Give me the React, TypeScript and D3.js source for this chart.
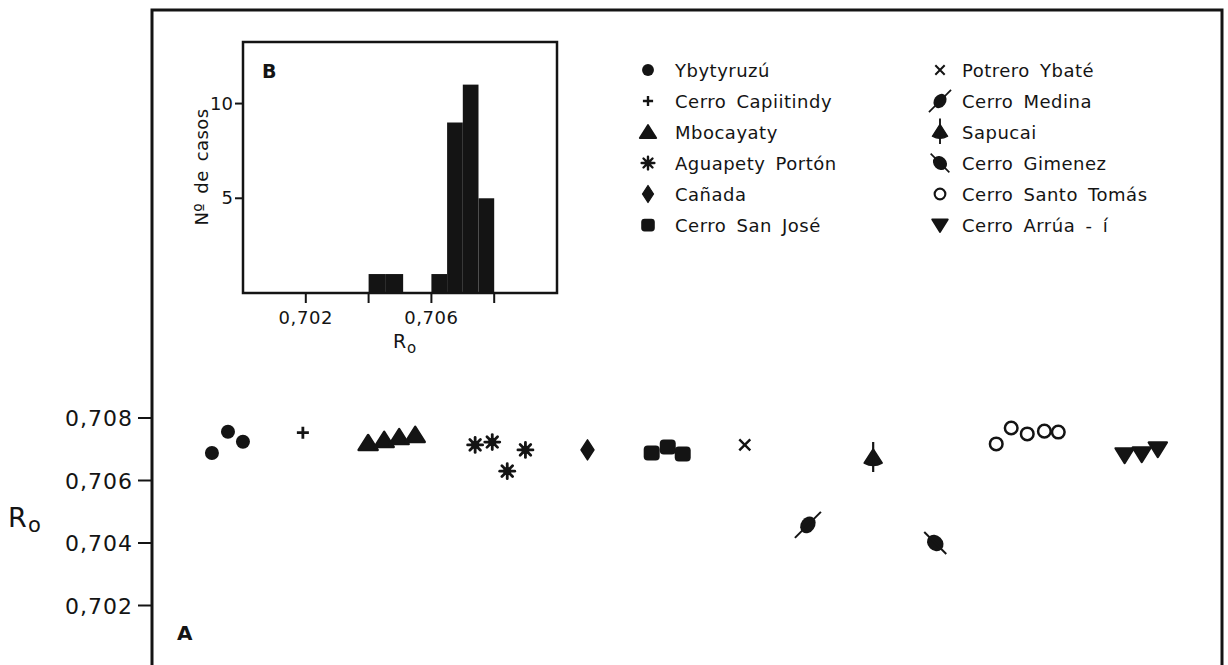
import React from 'react';
import * as d3 from 'd3';

// localities, marker style and samples (position along the plot, R0)
const localities = [
  'Ybytyruzú', 'Cerro Capiitindy', 'Mbocayaty', 'Aguapety Portón', 'Cañada', 'Cerro San José',
  'Potrero Ybaté', 'Cerro Medina', 'Sapucai', 'Cerro Gimenez', 'Cerro Santo Tomás', 'Cerro Arrúa - í',
];
const markerKinds = ['dot', 'plus', 'tri', 'star', 'diamond', 'square', 'x', 'medina', 'sapucai', 'gimenez', 'ring', 'vtri'];
const samplePos = [
  [5.6, 7.1, 8.5], [14.1], [20.2, 21.7, 23.1, 24.6], [30.2, 31.8, 34.9, 33.2], [40.7], [46.7, 48.2, 49.6],
  [55.4], [61.3], [67.4], [73.2], [78.9, 80.3, 81.8, 83.4, 84.7], [90.9, 92.5, 94.0],
];
const sampleR0 = [
  [0.70688, 0.70756, 0.70724], [0.70753], [0.7072, 0.7073, 0.70739, 0.70746], [0.70714, 0.70723, 0.70698, 0.7063],
  [0.70698], [0.70688, 0.70707, 0.70685], [0.70714], [0.70458], [0.70672], [0.704], [0.70717, 0.70768, 0.70749, 0.70758, 0.70755],
  [0.70682, 0.70685, 0.70701],
];

// histogram (inset B)
const binLo = [0.704, 0.70455, 0.706, 0.7065, 0.707, 0.7075];
const binHi = [0.70455, 0.7051, 0.7065, 0.707, 0.7075, 0.708];
const binCount = [1, 1, 1, 9, 11, 5];

const mainTicks = [0.702, 0.704, 0.706, 0.708];
const histXTicks = [0.702, 0.704, 0.706, 0.708];
const histXLabels = [0.702, 0.706];
const histYTicks = [5, 10];

const INK = '#141414';
const FONT = '"DejaVu Sans", "Noto Sans", sans-serif';
const fmt = (v: number) => d3.format('.3f')(v).replace('.', ',');

function Marker({ kind, x, y, s = 1 }: { kind: string; x: number; y: number; s?: number }) {
  let body: React.ReactNode = null;
  switch (kind) {
    case 'dot':
      body = <circle r={7} fill={INK} />;
      break;
    case 'plus':
      body = <path d="M-6,0H6M0,-6V6" stroke={INK} strokeWidth={2.8} />;
      break;
    case 'tri':
      body = <polygon points="0,-8 9.5,7 -9.5,7" fill={INK} stroke={INK} strokeWidth={2.5} strokeLinejoin="round" />;
      break;
    case 'star':
      body = (
        <g stroke={INK} strokeWidth={2.8} strokeLinecap="round">
          {[0, 45, 90, 135].map(a => (
            <line key={a} x1={-7.5} y1={0} x2={7.5} y2={0} transform={`rotate(${a})`} />
          ))}
          <circle r={4.2} fill={INK} stroke="none" />
        </g>
      );
      break;
    case 'diamond':
      body = <polygon points="0,-10 6.5,0 0,10 -6.5,0" fill={INK} stroke={INK} strokeWidth={1.5} strokeLinejoin="round" />;
      break;
    case 'square':
      body = <rect x={-8} y={-7.5} width={16} height={15} rx={4} fill={INK} />;
      break;
    case 'x':
      body = <path d="M-5.5,-5.5L5.5,5.5M5.5,-5.5L-5.5,5.5" stroke={INK} strokeWidth={2.4} />;
      break;
    case 'medina':
      body = (
        <g>
          <ellipse rx={9} ry={7} transform="rotate(-55)" fill={INK} />
          <line x1={-13} y1={13} x2={13} y2={-13} stroke={INK} strokeWidth={2} />
        </g>
      );
      break;
    case 'sapucai':
      body = (
        <g>
          <path d="M0,-9L9,5Q0,10,-9,5Z" fill={INK} stroke={INK} strokeWidth={1.5} strokeLinejoin="round" />
          <line x1={0} y1={-16} x2={0} y2={14} stroke={INK} strokeWidth={2.2} />
        </g>
      );
      break;
    case 'gimenez':
      body = (
        <g>
          <ellipse rx={9} ry={7.5} transform="rotate(45)" fill={INK} />
          <line x1={-11} y1={-11} x2={11} y2={11} stroke={INK} strokeWidth={2} />
        </g>
      );
      break;
    case 'ring':
      body = <circle r={6.3} fill="#fff" stroke={INK} strokeWidth={2.5} />;
      break;
    case 'vtri':
      body = <polygon points="-9,-6.5 9,-6.5 0,8" fill={INK} stroke={INK} strokeWidth={2.5} strokeLinejoin="round" />;
      break;
  }
  return <g transform={`translate(${x},${y}) scale(${s})`}>{body}</g>;
}

export default function App() {
  const W = 1228, H = 665;
  // main plot A
  const x = d3.scaleLinear().domain([0, 100]).range([152, 1222]);
  const y = d3.scaleLinear().domain([0.7, 0.708]).range([668, 418]);
  // inset B
  const hx = d3.scaleLinear().domain([0.7, 0.71]).range([243, 557]);
  const hy = d3.scaleLinear().domain([0, 13.25]).range([293, 42]);

  const legendRows = d3.range(6).map(i => 70 + i * 31);

  return (
    <svg width={W} height={H} style={{ position: 'absolute', left: 0, top: 0, background: '#fff' }} fontFamily={FONT}>
      <rect x={152} y={10} width={1070} height={700} fill="none" stroke={INK} strokeWidth={3} />

      {/* main y axis */}
      {mainTicks.map(t => (
        <g key={t}>
          <line x1={138} x2={152} y1={y(t)} y2={y(t)} stroke={INK} strokeWidth={2} />
          <text x={133} y={y(t) + 8} textAnchor="end" fontSize={22} fill={INK} letterSpacing={1}>{fmt(t)}</text>
        </g>
      ))}
      <text x={8} y={527} fontSize={27} fill={INK}>R</text>
      <text x={28} y={532} fontSize={21} fill={INK}>o</text>
      <text x={177} y={640} fontSize={20} fill={INK} fontWeight="bold">A</text>

      {/* samples */}
      {localities.map((name, i) =>
        samplePos[i].map((p, j) => (
          <Marker key={name + j} kind={markerKinds[i]} x={x(p)} y={y(sampleR0[i][j])} />
        ))
      )}

      {/* inset histogram */}
      {binLo.map((lo, i) => (
        <rect key={lo} x={hx(lo)} y={hy(binCount[i])} width={hx(binHi[i]) - hx(lo)} height={hy(0) - hy(binCount[i])} fill={INK} />
      ))}
      <rect x={243} y={42} width={314} height={251} fill="none" stroke={INK} strokeWidth={2.5} />
      {histXTicks.map(t => (
        <line key={t} x1={hx(t)} x2={hx(t)} y1={hy(0)} y2={hy(0) + 10} stroke={INK} strokeWidth={2} />
      ))}
      {histXLabels.map(t => (
        <text key={t} x={hx(t)} y={324} textAnchor="middle" fontSize={18} fill={INK} letterSpacing={0.6}>{fmt(t)}</text>
      ))}
      {histYTicks.map(t => (
        <g key={t}>
          <line x1={235} x2={243} y1={hy(t)} y2={hy(t)} stroke={INK} strokeWidth={2} />
          <text x={233} y={hy(t) + 6} textAnchor="end" fontSize={18} fill={INK}>{t}</text>
        </g>
      ))}
      <text transform="translate(208,167) rotate(-90)" textAnchor="middle" fontSize={18} fill={INK} letterSpacing={0.4} wordSpacing={3}>
        Nº de casos
      </text>
      <text x={393} y={348} fontSize={19} fill={INK}>R</text>
      <text x={407} y={353} fontSize={15} fill={INK}>o</text>
      <text x={262} y={78} fontSize={19} fill={INK} fontWeight="bold">B</text>

      {/* legend */}
      {localities.map((name, i) => {
        const col = Math.floor(i / 6);
        const row = legendRows[i % 6];
        const mx = col === 0 ? 648 : 940;
        const tx = col === 0 ? 675 : 962;
        return (
          <g key={name}>
            <Marker kind={markerKinds[i]} x={mx} y={row} s={0.85} />
            <text x={tx} y={row + 6.5} fontSize={18} fill={INK} letterSpacing={0.5} wordSpacing={4}>{name}</text>
          </g>
        );
      })}
    </svg>
  );
}
